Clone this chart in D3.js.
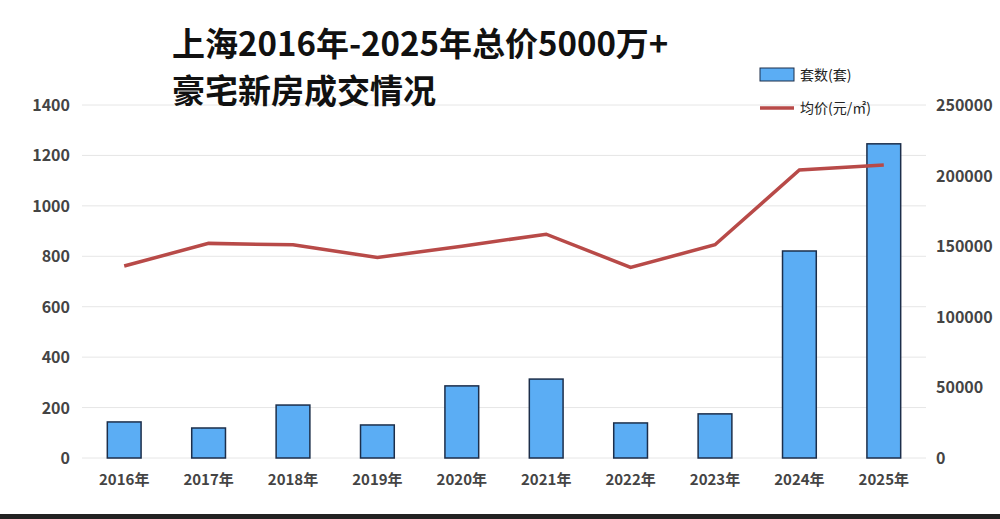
<!DOCTYPE html>
<html><head><meta charset="utf-8">
<script src="https://cdn.jsdelivr.net/npm/d3@7"></script>
<style>body{margin:0;background:#fff}text{font-family:"Noto Sans CJK SC","Noto Sans",sans-serif}</style>
</head><body><div id="chart"></div>
<script>
const years = ["2016年","2017年","2018年","2019年","2020年","2021年","2022年","2023年","2024年","2025年"];
const counts = [143, 119, 210, 131, 286, 313, 139, 175, 821, 1246];
const prices = [136000, 152000, 151000, 142000, 150000, 158500, 135000, 151000, 204000, 207500];
const leftTicks = [0, 200, 400, 600, 800, 1000, 1200, 1400];
const rightTicks = [0, 50000, 100000, 150000, 200000, 250000];

const width = 1000, height = 519;
const svg = d3.select('#chart').append('svg').attr('width', width).attr('height', height);

const x = d3.scaleBand().domain(years).range([82, 926]).paddingInner(0.6).paddingOuter(0.3);
const yL = d3.scaleLinear().domain([0, 1400]).range([458, 105]);
const yR = d3.scaleLinear().domain([0, 250000]).range([458, 105]);

// grid
svg.selectAll('line.grid').data(leftTicks).enter().append('line')
  .attr('x1', 82).attr('x2', 926)
  .attr('y1', d => yL(d)).attr('y2', d => yL(d))
  .attr('stroke', '#e6e6e6');

svg.selectAll('text.yl').data(leftTicks).enter().append('text')
  .attr('x', 70).attr('y', d => yL(d) + 6).attr('text-anchor', 'end')
  .attr('font-size', 16).attr('font-weight', 'bold').attr('fill', '#444').text(d => d);
svg.selectAll('text.yr').data(rightTicks).enter().append('text')
  .attr('x', 936).attr('y', d => yR(d) + 6)
  .attr('font-size', 16).attr('font-weight', 'bold').attr('fill', '#444').text(d => d);
svg.selectAll('text.xl').data(years).enter().append('text')
  .attr('x', d => x(d) + x.bandwidth() / 2).attr('y', 485).attr('text-anchor', 'middle')
  .attr('font-size', 15).attr('font-weight', 'bold').attr('fill', '#444').text(d => d);

svg.selectAll('rect.bar').data(counts).enter().append('rect')
  .attr('x', (d, i) => x(years[i])).attr('width', x.bandwidth())
  .attr('y', d => yL(d)).attr('height', d => 458 - yL(d))
  .attr('fill', '#5badf4').attr('stroke', '#1c2e4a').attr('stroke-width', 1.5);

const line = d3.line().x((d, i) => x(years[i]) + x.bandwidth() / 2).y(d => yR(d));
svg.append('path').datum(prices).attr('d', line)
  .attr('fill', 'none').attr('stroke', '#b84a48').attr('stroke-width', 3.5);

// title
svg.append('text').attr('x', 172).attr('y', 56).attr('font-size', 33).attr('font-weight', 'bold').attr('fill', '#111')
  .text('上海2016年-2025年总价5000万+');
svg.append('text').attr('x', 172).attr('y', 103).attr('font-size', 33).attr('font-weight', 'bold').attr('fill', '#111')
  .text('豪宅新房成交情况');

// legend
svg.append('rect').attr('x', 760).attr('y', 68).attr('width', 34).attr('height', 13)
  .attr('fill', '#5badf4').attr('stroke', '#1c2e4a');
svg.append('text').attr('x', 800).attr('y', 80).attr('font-size', 14).attr('fill', '#222').text('套数(套)');
svg.append('line').attr('x1', 760).attr('x2', 794).attr('y1', 108).attr('y2', 108)
  .attr('stroke', '#b84a48').attr('stroke-width', 3.5);
svg.append('text').attr('x', 800).attr('y', 113).attr('font-size', 14).attr('fill', '#222').text('均价(元/㎡)');

svg.append('rect').attr('x', 0).attr('y', 514).attr('width', width).attr('height', 5).attr('fill', '#222');
</script></body></html>
